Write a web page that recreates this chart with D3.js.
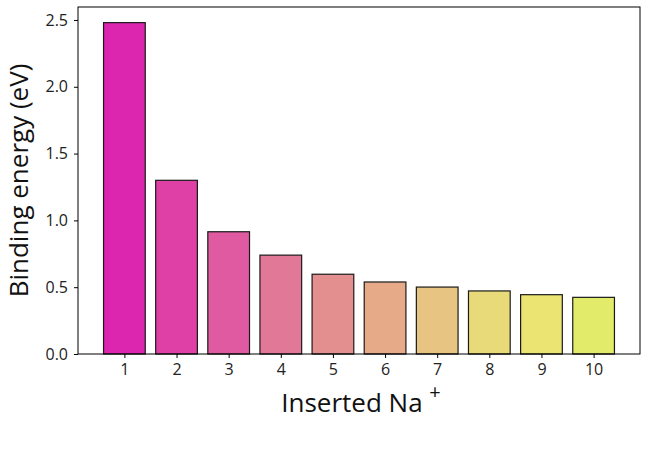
<!DOCTYPE html>
<html>
<head>
<meta charset="utf-8">
<script src="https://cdn.jsdelivr.net/npm/d3@7"></script>
<style>
  body { margin: 0; background: #fff; }
  text { font-family: "Open Sans", "DejaVu Sans", sans-serif; }
</style>
</head>
<body>
<svg id="chart"></svg>
<script>
// Data
const naCount = [1, 2, 3, 4, 5, 6, 7, 8, 9, 10];
const bindingEnergy = [2.48, 1.30, 0.915, 0.74, 0.597, 0.539, 0.501, 0.472, 0.444, 0.424];
const barColors = ['#dc26b0', '#de40a6', '#e05aa1', '#e27898', '#e38f90',
                   '#e6aa88', '#e7c482', '#e9da79', '#ebe472', '#e3ec6a'];
const yTicks = [0, 0.5, 1.0, 1.5, 2.0, 2.5];

const width = 650, height = 469;
const margin = { top: 7, right: 10, bottom: 115, left: 78 };

const svg = d3.select('#chart')
    .attr('width', width)
    .attr('height', height);

const x = d3.scaleLinear()
    .domain([0.11, 10.89])
    .range([margin.left, width - margin.right]);

const y = d3.scaleLinear()
    .domain([0, 2.597])
    .range([height - margin.bottom, margin.top]);

const barW = x(0.8) - x(0);

// Bars
svg.append('g')
    .selectAll('rect')
    .data(naCount)
    .join('rect')
    .attr('x', (d) => x(d) - barW / 2)
    .attr('y', (d, i) => y(bindingEnergy[i]))
    .attr('width', barW)
    .attr('height', (d, i) => y(0) - y(bindingEnergy[i]))
    .attr('fill', (d, i) => barColors[i])
    .attr('stroke', '#1a1a1a')
    .attr('stroke-width', 1.2);

// Frame
svg.append('rect')
    .attr('x', margin.left)
    .attr('y', margin.top)
    .attr('width', width - margin.left - margin.right)
    .attr('height', height - margin.top - margin.bottom)
    .attr('fill', 'none')
    .attr('stroke', '#000')
    .attr('stroke-width', 1);

// Axes
const xAxis = svg.append('g')
    .attr('transform', `translate(0, ${height - margin.bottom})`)
    .call(d3.axisBottom(x).tickValues(naCount).tickSize(4).tickPadding(6).tickFormat(d3.format('d')));

const yAxis = svg.append('g')
    .attr('transform', `translate(${margin.left}, 0)`)
    .call(d3.axisLeft(y).tickValues(yTicks).tickSize(4).tickPadding(6).tickFormat(d3.format('.1f')));

[xAxis, yAxis].forEach((ax) => {
    ax.select('.domain').remove();
    ax.attr('font-size', 16);
    ax.selectAll('text')
        .attr('fill', '#222');
    ax.selectAll('line').attr('stroke', '#000');
});

// Axis labels
svg.append('text')
    .attr('transform', `translate(28, ${(margin.top + height - margin.bottom) / 2}) rotate(-90)`)
    .attr('text-anchor', 'middle')
    .attr('font-size', '26px')
    .attr('fill', '#111')
    .text('Binding energy (eV)');

const xl = svg.append('text')
    .attr('x', 361)
    .attr('y', 412)
    .attr('text-anchor', 'middle')
    .attr('font-size', '26px')
    .attr('fill', '#111');
xl.append('tspan').text('Inserted Na ');
xl.append('tspan').attr('dy', -13).attr('font-size', '20px').text('+');
</script>
</body>
</html>
